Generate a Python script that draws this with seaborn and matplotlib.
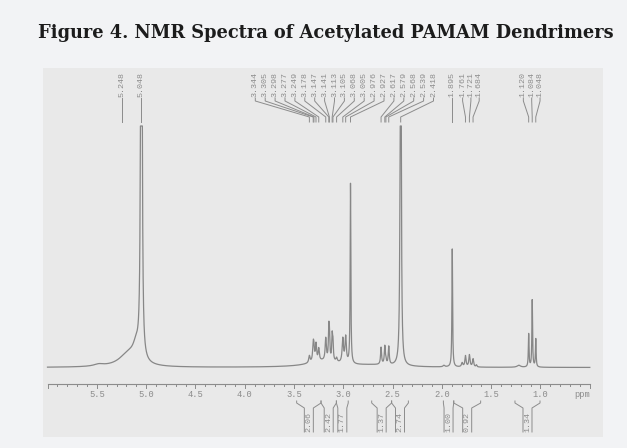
import numpy as np
import pandas as pd
import matplotlib
matplotlib.use("Agg")
import matplotlib.pyplot as plt
import seaborn as sns

# ---------------- data ----------------
title = "Figure 4. NMR Spectra of Acetylated PAMAM Dendrimers"

# resonances: position (ppm), height (px above baseline), half width (ppm)
peak_ppm = [5.048, 5.18, 5.10, 5.48,
            3.344, 3.305, 3.298, 3.277, 3.249, 3.178, 3.147, 3.141, 3.113, 3.105,
            3.068, 3.005, 2.976, 2.927, 3.20, 2.70,
            2.617, 2.579, 2.568, 2.539, 2.418,
            1.98, 1.895, 1.795, 1.761, 1.721, 1.684, 1.65, 1.22,
            1.120, 1.084, 1.048]
peak_height = [3000, 13, 15, 2.0,
               7, 17, 10, 17, 12, 22, 28, 22, 24, 17,
               4, 24, 26, 180, 6, 2,
               17, 18, 4, 18, 900,
               1.5, 118, 4, 11, 12, 8, 2, 2,
               33, 67, 28]
peak_hwhm = [0.003, 0.11, 0.04, 0.06,
             0.008, 0.007, 0.006, 0.007, 0.007, 0.007, 0.005, 0.005, 0.005, 0.005,
             0.008, 0.008, 0.008, 0.004, 0.18, 0.30,
             0.006, 0.006, 0.005, 0.006, 0.004,
             0.01, 0.004, 0.008, 0.007, 0.007, 0.007, 0.006, 0.02,
             0.004, 0.004, 0.004]

shift_labels = ["5.248", "5.048",
                "3.344", "3.305", "3.298", "3.277", "3.249", "3.178", "3.147",
                "3.141", "3.113", "3.105", "3.068", "3.005", "2.976", "2.927",
                "2.617", "2.579", "2.568", "2.539", "2.418",
                "1.895", "1.761", "1.721", "1.684",
                "1.120", "1.084", "1.048"]

integral_values = ["2.06", "2.42", "1.77", "1.37", "2.74", "1.00", "0.92", "1.34"]
integral_from = [3.473, 3.226, 3.07, 2.712, 2.51, 1.985, 1.88, 1.259]
integral_to = [3.226, 3.07, 2.95, 2.51, 2.34, 1.88, 1.607, 1.005]

major_ticks = [5.5, 5.0, 4.5, 4.0, 3.5, 3.0, 2.5, 2.0, 1.5, 1.0]
tick_labels = ["5.5", "5.0", "4.5", "4.0", "3.5", "3.0", "2.5", "2.0", "1.5", "1.0"]
axis_range = (6.0, 0.5)

# ---------------- layout helpers ----------------
W, H = 627, 448
PX3 = 343.3        # pixel x of 3.0 ppm
PXPPM = 98.6       # pixels per ppm
BASE = 367.5       # pixel y of spectrum baseline
CLIP = 126.0       # pixel y where tall peaks are clipped


def px2ppm(px):
    return 3.0 + (PX3 - px) / PXPPM


def ppm2px(p):
    return PX3 - (p - 3.0) * PXPPM


def py(pix):
    return BASE - pix


panel = dict(left=43.3, right=603.0, top=68.0, bottom=437.0)

fig = plt.figure(figsize=(W / 100, H / 100), dpi=100, facecolor="#f2f3f5")
ax = fig.add_axes([panel["left"] / W, (H - panel["bottom"]) / H,
                   (panel["right"] - panel["left"]) / W,
                   (panel["bottom"] - panel["top"]) / H])
ax.set_facecolor("#e9e9e9")

# ---------------- spectrum ----------------
grid = np.arange(axis_range[0], axis_range[1] - 1e-9, -0.0005)
spec = np.zeros_like(grid)
for p0, h0, g0 in zip(peak_ppm, peak_height, peak_hwhm):
    spec += h0 / (1.0 + ((grid - p0) / g0) ** 2)
spec = np.minimum(spec, py(CLIP))
df = pd.DataFrame({"ppm": grid, "intensity": spec})

line_col = "#878787"
txt_col = "#8c8c8c"
sns.lineplot(data=df, x="ppm", y="intensity", ax=ax, color=line_col,
             linewidth=0.9, sort=False, estimator=None, legend=False)

ax.set_xlim(px2ppm(panel["left"]), px2ppm(panel["right"]))
ax.set_ylim(py(panel["bottom"]), py(panel["top"]))
ax.set_xlabel("")
ax.set_ylabel("")
ax.set_xticks([])
ax.set_yticks([])
for s in ax.spines.values():
    s.set_visible(False)

mono = "Liberation Mono"

# ---------------- ruler ----------------
ry = 384.0
ax.plot([axis_range[0], axis_range[1]], [py(ry), py(ry)], color=txt_col, lw=0.8)
for i in range(0, 56):
    t = axis_range[0] - i * 0.1
    major = (i % 5 == 0)
    ax.plot([t, t], [py(ry), py(ry + (4 if major else 2))], color=txt_col, lw=0.7)
for t, lab in zip(major_ticks, tick_labels):
    ax.text(t, py(394), lab, ha="center", va="center", fontsize=6.3,
            family=mono, color=txt_col)
ax.text(px2ppm(581.7), py(394), "ppm", ha="center", va="center", fontsize=6.3,
        family=mono, color=txt_col)

# ---------------- peak labels ----------------
# groups: (first index, count, spacing px, centre px or None for own position)
groups = [(0, 1, 0, None), (1, 1, 0, None), (2, 19, 9.9, 344.4),
          (21, 1, 0, None), (22, 3, 8.3, 470.9), (25, 3, 8.35, 531.7)]
for start, n, sp, cen in groups:
    for k in range(n):
        lab = shift_labels[start + k]
        actual = float(lab)
        if cen is None:
            xl = ppm2px(actual)
        else:
            xl = cen + (k - (n - 1) / 2) * sp
        xa = ppm2px(actual)
        ax.text(px2ppm(xl), py(97), lab, rotation=90, ha="center", va="bottom",
                fontsize=6, family=mono, color=txt_col)
        ax.plot([px2ppm(xl), px2ppm(xl), px2ppm(xa), px2ppm(xa)],
                [py(98), py(101), py(117), py(122)], color=txt_col, lw=0.7)

# ---------------- integrals ----------------
for val, a, b in zip(integral_values, integral_from, integral_to):
    xa, xb = ppm2px(a), ppm2px(b)
    mid = (xa + xb) / 2
    bl, br = mid - 4.5, mid + 4.5
    ax.plot([px2ppm(xa), px2ppm(xa), px2ppm(bl), px2ppm(bl)],
            [py(401), py(403), py(408), py(432)], color=txt_col, lw=0.7)
    ax.plot([px2ppm(xb), px2ppm(xb), px2ppm(br), px2ppm(br)],
            [py(401), py(403), py(408), py(432)], color=txt_col, lw=0.7)
    ax.text(px2ppm(mid), py(421.5), val, rotation=90, ha="center", va="center",
            fontsize=6, family=mono, color=txt_col)

# ---------------- title ----------------
fig.text(326 / W, 1 - 33 / H, title, ha="center", va="center", fontsize=12.8,
         fontweight="bold", family="DejaVu Serif", color="#1c1c1c")

fig.savefig("out.png", dpi=100, facecolor=fig.get_facecolor())
